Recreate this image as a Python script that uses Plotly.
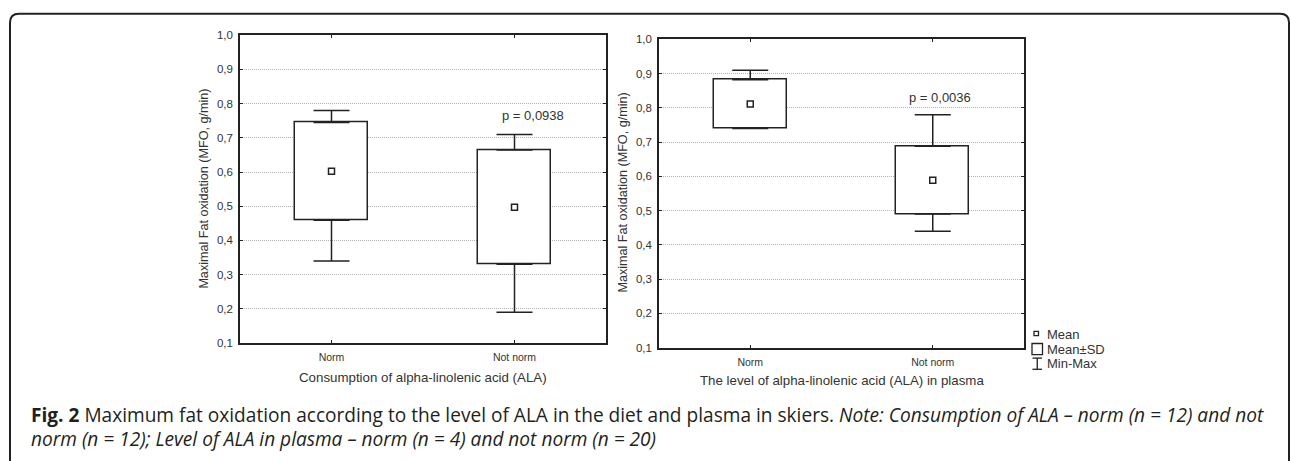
import plotly.graph_objects as go

# ---- data ----
categories = ["Norm", "Not norm"]
diet_mean = [0.602, 0.497]
diet_sd = [0.143, 0.167]
diet_min = [0.34, 0.19]
diet_max = [0.78, 0.71]
plasma_mean = [0.811, 0.589]
plasma_sd = [0.071, 0.099]
plasma_min = [0.74, 0.44]
plasma_max = [0.91, 0.78]
p_labels = ["p = 0,0938", "p = 0,0036"]
y_title = "Maximal Fat oxidation (MFO, g/min)"
x_titles = ["Consumption of alpha-linolenic acid (ALA)",
            "The level of alpha-linolenic acid (ALA) in plasma"]
legend_labels = ["Mean", "Mean±SD", "Min-Max"]
caption1 = ("<b>Fig. 2</b> Maximum fat oxidation according to the level of ALA in the diet "
            "and plasma in skiers. <i>Note: Consumption of ALA – norm (n = 12) and not</i>")
caption2 = "<i>norm (n = 12); Level of ALA in plasma – norm (n = 4) and not norm (n = 20)</i>"

W, H = 1290, 461
INK = "#222222"
TXT = "#333333"
FONT = "Liberation Sans, Arial, sans-serif"


def px(x):
    return x / W


def py(y):
    return 1 - y / H


fig = go.Figure()

panels = [
    dict(mean=diet_mean, sd=diet_sd, mn=diet_min, mx=diet_max, xa="x", ya="y"),
    dict(mean=plasma_mean, sd=plasma_sd, mn=plasma_min, mx=plasma_max, xa="x2", ya="y2"),
]

for p in panels:
    lo = [m - s for m, s in zip(p["mean"], p["sd"])]
    hi = [m + s for m, s in zip(p["mean"], p["sd"])]
    # upper whisker (box top -> max)
    fig.add_trace(go.Scatter(
        x=categories, y=hi, mode="markers", xaxis=p["xa"], yaxis=p["ya"],
        marker=dict(size=1, color="rgba(0,0,0,0)"), hoverinfo="skip",
        error_y=dict(type="data", symmetric=False,
                     array=[b - a for a, b in zip(hi, p["mx"])],
                     arrayminus=[0, 0], width=18, thickness=1.5, color=INK)))
    # lower whisker (min -> box bottom)
    fig.add_trace(go.Scatter(
        x=categories, y=lo, mode="markers", xaxis=p["xa"], yaxis=p["ya"],
        marker=dict(size=1, color="rgba(0,0,0,0)"), hoverinfo="skip",
        error_y=dict(type="data", symmetric=False, array=[0, 0],
                     arrayminus=[max(a - b, 0) for a, b in zip(lo, p["mn"])],
                     width=18, thickness=1.5, color=INK)))
    # Mean ± SD box
    fig.add_trace(go.Bar(
        x=categories, y=[2 * s for s in p["sd"]], base=lo, width=0.4,
        xaxis=p["xa"], yaxis=p["ya"],
        marker=dict(color="white", line=dict(color=INK, width=1.5))))
    # mean marker
    fig.add_trace(go.Scatter(
        x=categories, y=p["mean"], mode="markers", xaxis=p["xa"], yaxis=p["ya"],
        marker=dict(symbol="square-open", size=6, color=INK, line=dict(width=1.5))))

yax = dict(range=[0.1, 1.0], dtick=0.1, tick0=0.1, tickformat=".1f",
           showline=True, linecolor=INK, linewidth=1.5, mirror="ticks",
           ticks="inside", ticklen=3, tickcolor=INK,
           showgrid=True, gridcolor="#b3b3b3", griddash="1px,1px", gridwidth=1,
           zeroline=False, tickfont=dict(family=FONT, size=11.5, color=TXT),
           ticklabelstandoff=3)
xax = dict(range=[-0.5, 1.5], type="category",
           showline=True, linecolor=INK, linewidth=1.5, mirror="ticks",
           ticks="inside", ticklen=3, tickcolor=INK, showgrid=False,
           tickfont=dict(family=FONT, size=10.5, color=TXT), ticklabelstandoff=4)

fig.update_layout(
    width=W, height=H, margin=dict(l=0, r=0, t=0, b=0),
    paper_bgcolor="white", plot_bgcolor="white", showlegend=False,
    separators=", ", bargap=0,
    xaxis=dict(xax, domain=[px(240), px(606)], anchor="y"),
    yaxis=dict(yax, domain=[py(346), py(30)], anchor="x"),
    xaxis2=dict(xax, domain=[px(659), px(1024)], anchor="y2"),
    yaxis2=dict(yax, domain=[py(350.7), py(34.3)], anchor="x2"),
)

C = dict(xanchor="center", yanchor="middle", showarrow=False)
L = dict(xanchor="left", yanchor="middle", showarrow=False)
ann = []
# p-values
ann.append(dict(C, x=1.10, y=0.764, xref="x", yref="y", text=p_labels[0],
                font=dict(family=FONT, size=13, color=TXT)))
ann.append(dict(C, x=1.04, y=0.829, xref="x2", yref="y2", text=p_labels[1],
                font=dict(family=FONT, size=13, color=TXT)))
# axis titles
ann.append(dict(C, x=px(204), y=py(187.5), xref="paper", yref="paper", text=y_title,
                textangle=-90, font=dict(family=FONT, size=12.6, color=TXT)))
ann.append(dict(C, x=px(623), y=py(191.5), xref="paper", yref="paper", text=y_title,
                textangle=-90, font=dict(family=FONT, size=12.6, color=TXT)))
ann.append(dict(C, x=px(423), y=py(381), xref="paper", yref="paper", text=x_titles[0],
                font=dict(family=FONT, size=13.3, color=TXT)))
ann.append(dict(C, x=px(842), y=py(385), xref="paper", yref="paper", text=x_titles[1],
                font=dict(family=FONT, size=13.3, color=TXT)))
# legend texts
for label, yy in zip(legend_labels, [337, 352.5, 367.5]):
    ann.append(dict(L, x=px(1045), y=py(yy), xref="paper", yref="paper", text=label,
                    font=dict(family=FONT, size=13, color=TXT)))
# caption
ann.append(dict(L, x=px(29), y=py(420), xref="paper", yref="paper", text=caption1,
                font=dict(family="Open Sans", size=19.1, color="#231f20")))
ann.append(dict(L, x=px(29), y=py(445), xref="paper", yref="paper", text=caption2,
                font=dict(family="Open Sans", size=19.1, color="#231f20")))
fig.update_layout(annotations=ann)

shapes = []
# legend icons
shapes.append(dict(type="rect", xref="paper", yref="paper",
                   x0=px(1034), x1=px(1038.5), y0=py(334), y1=py(338.5),
                   line=dict(color=INK, width=1.3), fillcolor="white"))
shapes.append(dict(type="rect", xref="paper", yref="paper",
                   x0=px(1032), x1=px(1042.5), y0=py(346.5), y1=py(358),
                   line=dict(color=INK, width=1.3), fillcolor="white"))
for (x0, y0, x1, y1) in [(1032.5, 361.5, 1042, 361.5), (1032.5, 373, 1042, 373),
                         (1037.25, 361.5, 1037.25, 373)]:
    shapes.append(dict(type="line", xref="paper", yref="paper",
                       x0=px(x0), x1=px(x1), y0=py(y0), y1=py(y1),
                       line=dict(color=INK, width=1.3)))
# outer rounded frame
r = 9
pts = (f"M {px(10)},{py(470)} L {px(10)},{py(8 + r)} "
       f"Q {px(10)},{py(8)} {px(10 + r)},{py(8)} "
       f"L {px(1289 - r)},{py(8)} Q {px(1289)},{py(8)} {px(1289)},{py(8 + r)} "
       f"L {px(1289)},{py(470)}")
shapes.append(dict(type="path", xref="paper", yref="paper", path=pts,
                   line=dict(color=INK, width=2)))
fig.update_layout(shapes=shapes)

fig.write_html("out.html", config={"displayModeBar": False},
               post_script="document.body.style.margin='0';document.body.style.overflow='hidden';")
